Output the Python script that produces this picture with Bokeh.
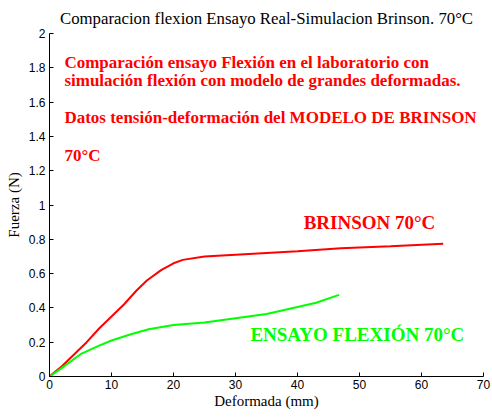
from bokeh.plotting import figure
from bokeh.models import Range1d, FixedTicker, Label
from bokeh.embed import file_html
from bokeh.resources import INLINE

# Simulated curve (Brinson model) – deflection (mm) vs force (N)
brinson_x = [0, 2, 4, 6, 8, 10, 12, 14, 15.7, 18, 20, 21.5, 25, 30, 35, 40, 47, 55, 63.5]
brinson_y = [0, 0.06, 0.13, 0.20, 0.28, 0.35, 0.42, 0.50, 0.56, 0.62, 0.66, 0.68,
             0.70, 0.71, 0.72, 0.73, 0.748, 0.76, 0.774]

# Laboratory bending test curve
ensayo_x = [0, 2, 5, 8, 10, 13, 16, 20, 25, 30, 35, 40, 43, 46.7]
ensayo_y = [0, 0.05, 0.13, 0.18, 0.21, 0.245, 0.275, 0.30, 0.315, 0.34, 0.365, 0.405, 0.43, 0.476]

x_ticks = [0, 10, 20, 30, 40, 50, 60, 70]
y_ticks = [0, 0.2, 0.4, 0.6, 0.8, 1, 1.2, 1.4, 1.6, 1.8, 2]

SERIF = "'Liberation Serif', 'Times New Roman', serif"
SANS = "'Liberation Sans', Arial, sans-serif"

p = figure(width=492, height=417, output_backend="svg", toolbar_location=None,
           x_range=Range1d(0, 70), y_range=Range1d(0, 2),
           min_border_left=49, min_border_right=9, min_border_top=33, min_border_bottom=41)

p.title.text = "Comparacion flexion Ensayo Real-Simulacion Brinson. 70°C"
p.title.align = "center"
p.title.text_font = SERIF
p.title.text_font_style = "normal"
p.title.text_font_size = "16.8px"
p.title.text_color = "black"
p.title.standoff = 12

p.outline_line_color = None
p.xgrid.visible = False
p.ygrid.visible = False
p.background_fill_color = "white"
p.border_fill_color = "white"

for ax in (p.xaxis[0], p.yaxis[0]):
    ax.major_tick_in = 4
    ax.major_tick_out = 0
    ax.minor_tick_line_color = None
    ax.axis_line_color = "black"
    ax.major_tick_line_color = "black"
    ax.major_label_text_font = SANS
    ax.major_label_text_font_size = "12px"
    ax.major_label_text_color = "black"
    ax.axis_label_text_font = SERIF
    ax.axis_label_text_font_style = "normal"
    ax.axis_label_text_font_size = "15px"
    ax.axis_label_text_color = "black"

p.xaxis.ticker = FixedTicker(ticks=x_ticks)
p.yaxis.ticker = FixedTicker(ticks=y_ticks)
p.yaxis.major_label_overrides = {v: ("%g" % v) for v in y_ticks}
p.xaxis.axis_label = "Deformada (mm)"
p.yaxis.axis_label = "Fuerza (N)"
p.xaxis.major_label_standoff = 3
p.yaxis.major_label_standoff = 4
p.xaxis.axis_label_standoff = 1
p.yaxis.axis_label_standoff = 4

p.line(brinson_x, brinson_y, line_color="#ff0000", line_width=2)
p.line(ensayo_x, ensayo_y, line_color="#00ff00", line_width=2)

# explanatory notes in the upper left of the plot
notes = [
    ("Comparación ensayo Flexión en el laboratorio con", 2.4, 1.83),
    ("simulación flexión con modelo de grandes deformadas.", 2.4, 1.726),
    ("Datos tensión-deformación del MODELO DE BRINSON", 2.4, 1.51),
    ("70°C", 2.4, 1.29),
]
for txt, x, y in notes:
    p.add_layout(Label(x=x, y=y, text=txt, text_color="#ff0000",
                       text_font=SERIF, text_font_style="bold",
                       text_font_size="17px", text_baseline="middle", text_align="left"))

p.add_layout(Label(x=41, y=0.90, text="BRINSON 70°C", text_color="#ff0000",
                   text_font=SERIF, text_font_style="bold",
                   text_font_size="19px", text_baseline="middle", text_align="left"))
p.add_layout(Label(x=32.4, y=0.245, text="ENSAYO FLEXIÓN 70°C", text_color="#00ff00",
                   text_font=SERIF, text_font_style="bold",
                   text_font_size="19px", text_baseline="middle", text_align="left"))

open("out.html", "w").write(file_html(p, INLINE))
